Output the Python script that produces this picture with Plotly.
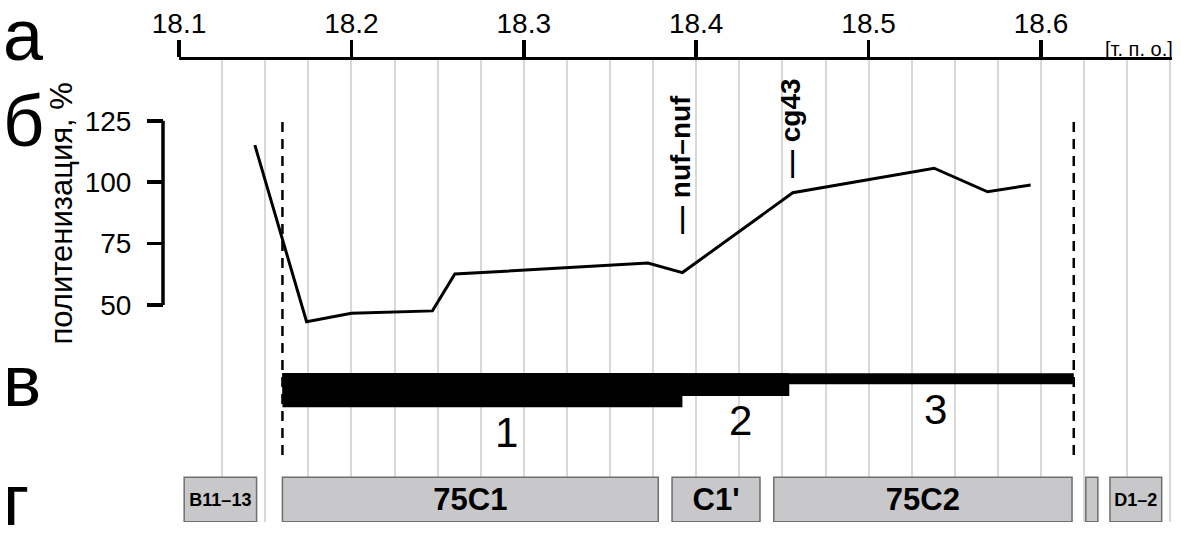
import plotly.graph_objects as go

# ---------------- data ----------------
pos_mb = [18.144, 18.174, 18.200, 18.247, 18.260, 18.372, 18.392, 18.456, 18.538, 18.569, 18.594]
polytenization = [115.1, 43.2, 46.6, 47.6, 62.6, 67.1, 63.2, 95.7, 105.7, 96.1, 98.9]

region_names = ["1", "2", "3"]
region_start = [18.160, 18.160, 18.160]
region_end = [18.392, 18.454, 18.619]

band_labels = ["B11–13", "75C1", "C1'", "75C2", "", "D1–2"]
band_start = [18.103, 18.160, 18.386, 18.445, 18.626, 18.640]
band_end = [18.145, 18.378, 18.437, 18.618, 18.633, 18.670]

boundary_pos = [18.160, 18.619]

gene_names = ["nuf–nuf", "cg43"]
gene_pos = [18.392, 18.456]

x_tick_vals = [18.1, 18.2, 18.3, 18.4, 18.5, 18.6]
x_tick_text = ["18.1", "18.2", "18.3", "18.4", "18.5", "18.6"]
y_tick_vals = [50, 75, 100, 125]
y_tick_text = ["50", "75", "100", "125"]

panel_letters = ["а", "б", "в", "г"]

# ---------------- layout constants ----------------
OFF = 0                      # page body margin removed via post_script
W, H = 1181 - OFF, 535 - OFF
FONT = "Liberation Sans, Arial, Helvetica, sans-serif"
PLOT_TOP, PLOT_BOT = 60, 522          # screen rows of plot area
X_LEFT, X_RIGHT = 179, 1172           # screen columns of x axis
PX_PER_MB = 1724.0
PY_125, PY_50 = 120.8, 305.0
py_per_unit = (PY_50 - PY_125) / 75.0
y_hi = 50 + (PY_50 - PLOT_TOP) / py_per_unit
y_lo = 50 - (PLOT_BOT - PY_50) / py_per_unit
plot_h = PLOT_BOT - PLOT_TOP


def trk(py):
    """screen row -> track axis (y2) value"""
    return (PLOT_BOT - py) / plot_h


def paper_x(px):
    return (px - OFF) / W


def paper_y(py):
    return (H - (py - OFF)) / H


def mb(px):
    return 18.1 + (px - X_LEFT) / PX_PER_MB


fig = go.Figure()

# polytenization profile
fig.add_trace(go.Scatter(
    x=pos_mb, y=polytenization, mode="lines",
    line=dict(color="black", width=3), yaxis="y", showlegend=False,
    hoverinfo="skip"))

# region bars (в)
bar_top = 373.3
bar_bottoms = [407.3, 396.0, 384.3]
for name, s, e, bb in zip(region_names, region_start, region_end, bar_bottoms):
    fig.add_trace(go.Bar(
        orientation="h", base=[s], x=[e - s],
        y=[(trk(bar_top) + trk(bb)) / 2], width=[trk(bar_top) - trk(bb)],
        marker=dict(color="black", line=dict(width=0)),
        yaxis="y2", showlegend=False, hoverinfo="skip"))

# band boxes (г)
band_sizes = [18 if ("–" in t) else 31 for t in band_labels]
fig.add_trace(go.Bar(
    orientation="h", base=band_start,
    x=[e - s for s, e in zip(band_start, band_end)],
    y=[(trk(477.3) + trk(521.7)) / 2] * len(band_start),
    width=[trk(477.3) - trk(521.7)] * len(band_start),
    marker=dict(color="#c8c8ca", line=dict(color="#6e6e6e", width=1.5)),
    text=[f"<b>{t}</b>" if t else "" for t in band_labels],
    textposition="inside", insidetextanchor="middle", textangle=0,
    constraintext="none",
    textfont=dict(family=FONT, size=band_sizes, color="black"),
    yaxis="y2", showlegend=False, hoverinfo="skip"))

# boundaries (dashed)
for b in boundary_pos:
    fig.add_trace(go.Scatter(
        x=[b, b], y=[trk(455), trk(120)], mode="lines",
        line=dict(color="black", width=2.5, dash="10px,7px"),
        yaxis="y2", showlegend=False, hoverinfo="skip"))

# y-axis line (only over tick range)
fig.add_shape(type="line", xref="paper", yref="y",
              x0=paper_x(163), x1=paper_x(163), y0=min(y_tick_vals), y1=max(y_tick_vals),
              line=dict(color="black", width=3.5))

annotations = []
# panel letters
letter_rows = [35, 121, 381, 500]
for L, py in zip(panel_letters, letter_rows):
    annotations.append(dict(text=L, xref="paper", yref="paper", x=paper_x(1), y=paper_y(py),
                            xanchor="left", yanchor="middle", showarrow=False,
                            font=dict(family=FONT, size=72, color="black")))
# y title
annotations.append(dict(text="политенизация, %", xref="paper", yref="paper",
                        x=paper_x(61), y=paper_y(213.5), xanchor="center", yanchor="middle",
                        textangle=-90, showarrow=False,
                        font=dict(family=FONT, size=31, color="black")))
# units
annotations.append(dict(text="[т. п. о.]", xref="paper", yref="paper",
                        x=paper_x(1175), y=paper_y(49), xanchor="right", yanchor="middle",
                        showarrow=False, font=dict(family=FONT, size=20, color="black")))
# gene labels
gene_rows = [165, 128]
gene_cols = [680, 791]
for g, py, px in zip(gene_names, gene_rows, gene_cols):
    annotations.append(dict(text=f"<b>— {g}</b>", xref="x", yref="paper",
                            x=mb(px), y=paper_y(py), xanchor="center", yanchor="middle",
                            textangle=-90, showarrow=False,
                            font=dict(family=FONT, size=28, color="black")))
# region numbers
num_pos = [(506.7, 432), (740, 420.5), (935, 409)]
for n, (px, py) in zip(region_names, num_pos):
    annotations.append(dict(text=n, xref="x", yref="y2",
                            x=mb(px), y=trk(py),
                            xanchor="center", yanchor="middle", showarrow=False,
                            font=dict(family=FONT, size=42, color="black")))

grid_col = "#d8d8d8"
fig.update_layout(
    width=W, height=H,
    margin=dict(l=0, r=0, t=0, b=0, pad=0, autoexpand=False),
    paper_bgcolor="white", plot_bgcolor="white",
    barmode="overlay", showlegend=False,
    xaxis=dict(
        domain=[paper_x(X_LEFT), paper_x(X_RIGHT)],
        range=[18.1, mb(X_RIGHT)],
        side="top", anchor="y", automargin=False,
        tickmode="array", tickvals=x_tick_vals, ticktext=x_tick_text,
        ticks="outside", ticklen=17, tickwidth=3.5, tickcolor="black",
        ticklabelstandoff=-5,
        showline=True, linecolor="black", linewidth=3.5,
        showgrid=True, gridcolor=grid_col, gridwidth=2,
        minor=dict(tickmode="linear", tick0=18.1, dtick=0.025, showgrid=True,
                   gridcolor=grid_col, gridwidth=2, ticks=""),
        tickfont=dict(family=FONT, size=28, color="black"),
        zeroline=False, fixedrange=True),
    yaxis=dict(
        domain=[paper_y(PLOT_BOT), paper_y(PLOT_TOP)],
        range=[y_lo, y_hi], anchor="free", position=paper_x(163), automargin=False,
        tickmode="array", tickvals=y_tick_vals, ticktext=y_tick_text,
        ticks="outside", ticklen=16, tickwidth=3.5, tickcolor="black",
        ticklabelstandoff=10,
        showline=False, showgrid=False, zeroline=False,
        tickfont=dict(family=FONT, size=28, color="black"), fixedrange=True),
    yaxis2=dict(overlaying="y", range=[0, 1], visible=False, fixedrange=True,
                automargin=False),
    annotations=annotations,
)

fig.write_html("out.html",
               config={"displayModeBar": False, "staticPlot": True},
               post_script="document.body.style.margin='0';document.body.style.overflow='hidden';")
